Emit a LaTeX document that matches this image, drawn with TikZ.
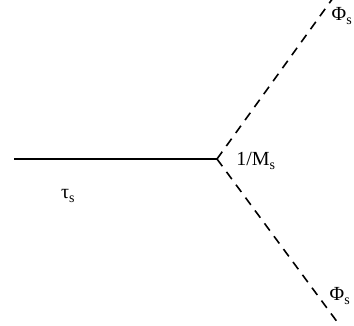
\documentclass[tikz,border=0pt]{standalone}
\usepackage{fontspec}
\setmainfont{Liberation Serif}
\usetikzlibrary{positioning}

\begin{document}
\begin{tikzpicture}[
  x=1pt, y=1pt,
  font=\fontsize{20}{24}\selectfont,
  arm/.style={line width=1.6pt},
  branch/.style={arm, dash pattern=on 9pt off 7pt},
  lbl/.style={inner sep=1pt},
]
\useasboundingbox (0,0) rectangle (354,326);

\coordinate (left)   at (14,167);
\coordinate (vertex) at (217,167);
\coordinate (top)    at (333,328);
\coordinate (bottom) at (338,3);

\draw[arm] (left) -- (vertex);
\draw[branch] (vertex) -- (top);
\draw[branch] (vertex) -- (bottom);

\node[lbl] (tau)    at (68,130) {τ\textsubscript{s}};
\node[lbl] (mass)   at (256,165) {1/M\textsubscript{s}};
\node[lbl] (phitop) at (342,310) {Φ\textsubscript{s}};
\node[lbl] (phibot) at (340,30) {Φ\textsubscript{s}};
\end{tikzpicture}
\end{document}
